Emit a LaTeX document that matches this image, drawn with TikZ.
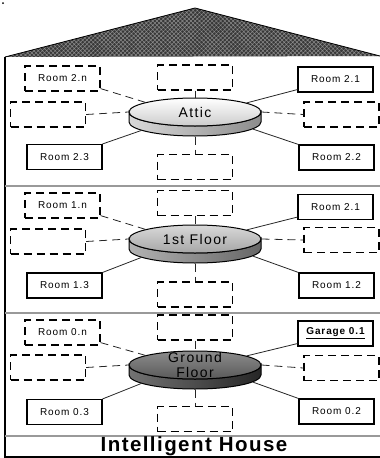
\documentclass[tikz,border=0pt]{standalone}
\usepackage{fontspec}
\setmainfont{Liberation Sans}
\newfontfamily\roomfont[LetterSpace=9]{Liberation Sans}
\newfontfamily\diskfont[LetterSpace=10]{Liberation Sans}
\newfontfamily\titlefont[LetterSpace=7]{Liberation Sans}
\usetikzlibrary{shapes.geometric,patterns.meta}

% One floor disk: #1 name, #2 cx, #3 cy, #4/#5 face top/bottom colour,
% #6/#7 rim left/right colour, #8 label
\newcommand\floordisk[8]{%
  \path[draw=black, line width=1pt, left color=#6, right color=#7]
    (#2-66,#3) -- ++(0,10)
    arc[start angle=180, end angle=360, x radius=66pt, y radius=14pt]
    -- ++(0,-10)
    arc[start angle=360, end angle=180, x radius=66pt, y radius=14pt] -- cycle;
  \node[ellipse, draw=black, line width=1pt, minimum width=132pt,
        minimum height=28pt, inner sep=0pt, top color=#4, bottom color=#5,
        label={[disklabel]center:#8}] (#1) at (#2,#3) {};
}

\begin{document}
\begin{tikzpicture}[x=1pt, y=-1pt,
  room/.style={draw=black, line width=1.1pt, fill=white, minimum width=75pt,
    minimum height=25pt, inner sep=0pt,
    font=\roomfont\fontsize{10}{11}\selectfont},
  spare/.style={room, dash pattern=on 8pt off 5pt, line width=1.2pt},
  link/.style={line width=0.8pt, draw=black!85},
  dlink/.style={link, dash pattern=on 8pt off 5pt},
  disklabel/.style={font=\diskfont\fontsize{14}{15}\selectfont, align=center,
    inner sep=0pt, text=black},
  divider/.style={draw=black!40, line width=1.6pt}]

\useasboundingbox (0,0) rectangle (380,458);

% stray mark in the corner
\fill (3,3) circle[radius=1pt];

% roof
\coordinate (eaveL) at (5,57);
\coordinate (apex) at (195,8);
\coordinate (eaveR) at (380,56);
\fill[black!78] (eaveL) -- (apex) -- (eaveR) -- cycle;
\fill[pattern={Hatch[angle=45, distance=3pt, line width=0.5pt]},
      pattern color=black!45] (eaveL) -- (apex) -- (eaveR) -- cycle;
\draw[line width=0.8pt] (eaveL) -- (apex) -- (eaveR);

% walls and floor dividers
\draw[line width=1.3pt] (5,57) -- (5,457) -- (380,457);
\draw[divider] (5,186) -- (380,186);
\draw[divider] (5,313) -- (380,313);
\draw[divider] (5,436) -- (380,436);

% ---------------- attic ----------------
\floordisk{att}{195}{112}{white}{black!20}{black!15}{black!45}{Attic}
\node[spare] (a-n) at (62.5,78.5) {Room 2.n};
\node[spare] (a-t) at (195,77.5) {};
\node[room]  (a-1) at (335.5,79.5) {Room 2.1};
\node[spare] (a-l) at (48,114.5) {};
\node[spare] (a-r) at (341.5,114.5) {};
\node[room]  (a-3) at (64.5,157) {Room 2.3};
\node[room]  (a-2) at (336.5,157.5) {Room 2.2};
\node[spare] (a-b) at (195,167) {};

\draw[dlink] ([yshift=3pt]a-n.south east) -- (att.169);
\draw[dlink] (a-t.south) -- (att.north);
\draw[link]  ([yshift=3pt]a-1.south west) -- (att.10.5);
\draw[dlink] (a-l.east) -- (att.west);
\draw[dlink] (att.east) -- (a-r.west);
\draw[link]  (a-3.north east) -- ([yshift=-10pt]att.189);
\draw[link]  (a-2.north west) -- ([yshift=-10pt]att.-7);
\draw[dlink] ([yshift=-10pt]att.south) -- (a-b.north);

% ---------------- 1st floor ----------------
\floordisk{fst}{195}{239}{black!15}{black!35}{black!30}{black!60}{1st Floor}
\node[spare] (f-n) at (62.5,205.5) {Room 1.n};
\node[spare] (f-t) at (195,203) {};
\node[room]  (f-1) at (335.5,207) {Room 2.1};
\node[spare] (f-l) at (48,241.5) {};
\node[spare] (f-r) at (341.5,240) {};
\node[room]  (f-3) at (64.5,285.5) {Room 1.3};
\node[room]  (f-2) at (336.5,285.5) {Room 1.2};
\node[spare] (f-b) at (195,294.5) {};

\draw[dlink] ([yshift=3pt]f-n.south east) -- (fst.169);
\draw[dlink] (f-t.south) -- (fst.north);
\draw[link]  ([yshift=3pt]f-1.south west) -- (fst.10.5);
\draw[dlink] (f-l.east) -- (fst.west);
\draw[dlink] (fst.east) -- (f-r.west);
\draw[link]  (f-3.north east) -- ([yshift=-10pt]fst.189);
\draw[link]  (f-2.north west) -- ([yshift=-10pt]fst.-7);
\draw[dlink] ([yshift=-10pt]fst.south) -- (f-b.north);

% ---------------- ground floor ----------------
\floordisk{gnd}{195}{365}{black!45}{black!65}{black!55}{black!85}{Ground\\Floor}
\node[spare] (g-n) at (62.5,332.5) {Room 0.n};
\node[spare] (g-t) at (195,327.5) {};
\node[room]  (g-1) at (335.5,333.5) {\bfseries\underline{Garage 0.1}};
\node[spare] (g-l) at (48,367.5) {};
\node[spare] (g-r) at (341.5,368) {};
\node[room]  (g-3) at (64.5,412) {Room 0.3};
\node[room]  (g-2) at (336.5,411.5) {Room 0.2};
\node[spare] (g-b) at (195,419) {};

\draw[dlink] ([yshift=3pt]g-n.south east) -- (gnd.169);
\draw[dlink] (g-t.south) -- (gnd.north);
\draw[link]  ([yshift=3pt]g-1.south west) -- (gnd.10.5);
\draw[dlink] (g-l.east) -- (gnd.west);
\draw[dlink] (gnd.east) -- (g-r.west);
\draw[link]  (g-3.north east) -- ([yshift=-10pt]gnd.189);
\draw[link]  (g-2.north west) -- ([yshift=-10pt]gnd.-7);
\draw[dlink] ([yshift=-10pt]gnd.south) -- (g-b.north);

% caption
\node[font=\titlefont\bfseries\fontsize{20.5}{21}\selectfont, inner sep=0pt]
  (title) at (194,446) {Intelligent House};
\end{tikzpicture}
\end{document}
